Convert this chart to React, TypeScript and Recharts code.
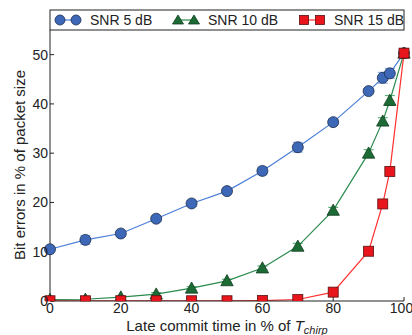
import * as React from 'react';
import { LineChart, Line, XAxis, YAxis, ErrorBar } from 'recharts';

// late commit time, % of T_chirp
const commitTimes = [0, 10, 20, 30, 40, 50, 60, 70, 80, 90, 94, 96, 100];
// bit errors, % of packet size
const snr5 = [10.5, 12.4, 13.7, 16.7, 19.8, 22.3, 26.4, 31.2, 36.3, 42.6, 45.3, 46.2, 50.3];
const snr10 = [0.3, 0.35, 0.8, 1.4, 2.6, 4.1, 6.7, 11.1, 18.4, 30.0, 36.5, 40.7, 50.3];
const snr15 = [0.05, 0.05, 0.05, 0.05, 0.05, 0.05, 0.1, 0.3, 1.8, 10.1, 19.7, 26.3, 50.3];
const err5 = [0.4, 0.9, 0.5, 0.5, 0.6, 0.5, 0.8, 1.0, 0.6, 0.5, 1.1, 1.0, 0.3];
const err10 = [0.2, 0.2, 0.2, 0.3, 0.3, 0.3, 0.4, 0.6, 0.6, 0.7, 0.7, 1.0, 0.3];
const err15 = [0.1, 0.1, 0.1, 0.1, 0.1, 0.1, 0.1, 0.1, 0.2, 0.3, 0.4, 0.4, 0.3];
const xTicks = [0, 20, 40, 60, 80, 100];
const yTicks = [0, 10, 20, 30, 40, 50];

const data = commitTimes.map((t, i) => ({
  t,
  snr5: snr5[i],
  snr10: snr10[i],
  snr15: snr15[i],
  e5: err5[i],
  e10: err10[i],
  e15: err15[i]
}));

const FONT = "'Liberation Sans', Arial, sans-serif";
const INK = '#222';

const BLUE = { line: '#4a7fd6', fill: '#3d68b8', edge: '#1d2d4d', err: '#8fb0e8' };
const GREEN = { line: '#2a8a4e', fill: '#1c6b35', edge: '#123d20', err: '#5fb07d' };
const RED = { line: '#ff3030', fill: '#e8161c', edge: '#5a1010', err: '#ff8080' };

function circleDot(props: any) {
  const { cx, cy, index } = props;
  return <circle key={`c${index}`} cx={cx} cy={cy} r={5.5} fill={BLUE.fill} stroke={BLUE.edge} strokeWidth={0.8} />;
}

function triangleDot(props: any) {
  const { cx, cy, index } = props;
  const s = 6.2;
  const pts = `${cx},${cy - s} ${cx - s},${cy + s * 0.8} ${cx + s},${cy + s * 0.8}`;
  return <polygon key={`t${index}`} points={pts} fill={GREEN.fill} stroke={GREEN.edge} strokeWidth={0.8} />;
}

function squareDot(props: any) {
  const { cx, cy, index } = props;
  return <rect key={`s${index}`} x={cx - 5} y={cy - 5} width={10} height={10} fill={RED.fill} stroke={RED.edge} strokeWidth={0.8} />;
}

function XLabel(props: any) {
  const { viewBox } = props;
  const cx = viewBox.x + viewBox.width / 2;
  return (
    <text x={cx} y={331} textAnchor="middle" fontFamily={FONT} fontSize={15} fill={INK}>
      Late commit time in % of <tspan fontStyle="italic">T</tspan>
      <tspan fontStyle="italic" fontSize={11} dy={3}>chirp</tspan>
    </text>
  );
}

function YLabel() {
  return (
    <text x={25} y={165} transform="rotate(-90 25 165)" textAnchor="middle" fontFamily={FONT} fontSize={15} fill={INK}>
      Bit errors in % of packet size
    </text>
  );
}

function LegendBox() {
  const items = [
    { name: 'SNR 5 dB', x: 55, c: BLUE, shape: 'circle' },
    { name: 'SNR 10 dB', x: 173, c: GREEN, shape: 'triangle' },
    { name: 'SNR 15 dB', x: 299, c: RED, shape: 'square' }
  ];
  const cy = 20;
  return (
    <svg width={412} height={335} style={{ position: 'absolute', left: 0, top: 0, pointerEvents: 'none' }}>
      <rect x={50} y={10} width={354} height={20} fill="#fff" stroke={INK} strokeWidth={1} />
      {items.map((it) => {
        const a = it.x + 5;
        const b = it.x + 21;
        const mark = (mx: number) =>
          it.shape === 'circle' ? (
            <circle cx={mx} cy={cy} r={5} fill={it.c.fill} stroke={it.c.edge} strokeWidth={0.8} />
          ) : it.shape === 'triangle' ? (
            <polygon points={`${mx},${cy - 5} ${mx - 5.5},${cy + 4} ${mx + 5.5},${cy + 4}`} fill={it.c.fill} stroke={it.c.edge} strokeWidth={0.8} />
          ) : (
            <rect x={mx - 4.5} y={cy - 4.5} width={9} height={9} fill={it.c.fill} stroke={it.c.edge} strokeWidth={0.8} />
          );
        return (
          <g key={it.name}>
            <line x1={a} y1={cy} x2={b} y2={cy} stroke={it.c.line} strokeWidth={1.2} />
            {mark(a)}
            {mark(b)}
            <text x={it.x + 35} y={cy + 5} fontFamily={FONT} fontSize={14} fill={INK}>
              {it.name}
            </text>
          </g>
        );
      })}
    </svg>
  );
}

const tickStyle = { fontFamily: FONT, fontSize: 14, fill: INK };

export default function App(): React.ReactElement {
  return (
    <div style={{ position: 'absolute', left: 0, top: 0, width: 412, height: 335, background: '#fff' }}>
      <LineChart width={412} height={335} data={data} margin={{ top: 30, right: 8, bottom: 0, left: 0 }}>
        <XAxis
          dataKey="t"
          type="number"
          domain={[0, 100]}
          ticks={xTicks}
          height={34}
          tick={tickStyle}
          tickSize={-4}
          tickMargin={6}
          stroke={INK}
          label={<XLabel />}
        />
        <XAxis xAxisId="top" dataKey="t" type="number" domain={[0, 100]} ticks={xTicks} orientation="top" height={0} tick={false} tickSize={-4} stroke={INK} />
        <YAxis
          type="number"
          domain={[0, 55]}
          ticks={yTicks}
          width={50}
          tick={tickStyle}
          tickSize={-4}
          tickMargin={6}
          stroke={INK}
          allowDataOverflow
        />
        <YAxis yAxisId="right" orientation="right" type="number" domain={[0, 55]} ticks={yTicks} width={0} tick={false} tickSize={-4} stroke={INK} />
        <Line dataKey="snr5" type="linear" stroke={BLUE.line} strokeWidth={1.2} dot={circleDot} isAnimationActive={false}>
          <ErrorBar dataKey="e5" width={5} stroke={BLUE.err} strokeWidth={1.2} direction="y" />
        </Line>
        <Line dataKey="snr10" type="linear" stroke={GREEN.line} strokeWidth={1.2} dot={triangleDot} isAnimationActive={false}>
          <ErrorBar dataKey="e10" width={5} stroke={GREEN.err} strokeWidth={1.2} direction="y" />
        </Line>
        <Line dataKey="snr15" type="linear" stroke={RED.line} strokeWidth={1.2} dot={squareDot} isAnimationActive={false}>
          <ErrorBar dataKey="e15" width={5} stroke={RED.err} strokeWidth={1.2} direction="y" />
        </Line>
        <YLabel />
      </LineChart>
      <LegendBox />
    </div>
  );
}
